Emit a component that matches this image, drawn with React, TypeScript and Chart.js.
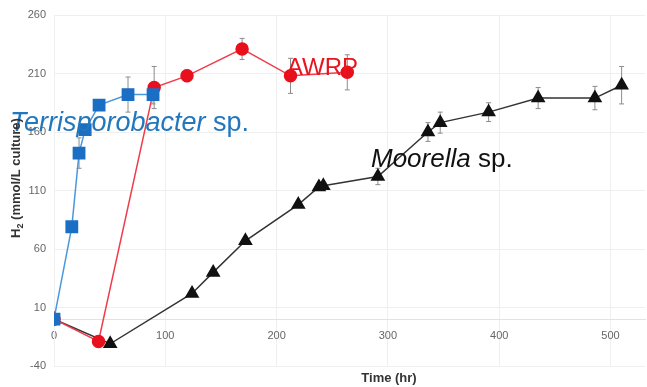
import React, { useEffect, useRef } from "react";
import { Chart, registerables } from "chart.js";
Chart.register(...registerables);

const xTicks = [0, 100, 200, 300, 400, 500];
const yTicks = [-40, 10, 60, 110, 160, 210, 260];

const terriTime = [0, 16, 22.5, 28, 40.5, 66.5, 89];
const terriH2 = [0, 79, 142, 162, 183, 192, 192];
const terriErr = [0, 2, 13, 3, 3, 15, 8];

const awrpTime = [0, 40, 90, 119.5, 169, 212.5, 263.5];
const awrpH2 = [0, -19, 198, 208, 231, 208, 211];
const awrpErr = [0, 2, 18, 5, 9, 15, 15];

const mooTime = [0, 50.5, 124, 143, 172, 219.5, 238, 242, 291, 336, 347, 390.5, 435, 486, 510];
const mooH2 = [0, -21, 22, 40, 67, 98, 113, 114, 122, 160, 168, 177, 189, 189, 200];
const mooErr = [0, 1, 2, 2, 2, 2, 3, 3, 7, 8, 9, 8, 9, 10, 16];

const FONT = "'Liberation Sans', Arial, sans-serif";

const toPoints = (xs: number[], ys: number[]) => xs.map((x, i) => ({ x, y: ys[i] }));

const errorBarPlugin = {
  id: "errorBars",
  beforeDatasetsDraw(chart: any) {
    const ctx = chart.ctx;
    const yScale = chart.scales.y;
    ctx.save();
    ctx.strokeStyle = "#8c8c8c";
    ctx.lineWidth = 1;
    chart.data.datasets.forEach((ds: any, di: number) => {
      const meta = chart.getDatasetMeta(di);
      const errs: number[] = ds.errors || [];
      meta.data.forEach((pt: any, i: number) => {
        const e = errs[i];
        if (!e) return;
        const v = ds.data[i].y;
        const yTop = yScale.getPixelForValue(v + e);
        const yBot = yScale.getPixelForValue(v - e);
        const x = pt.x;
        ctx.beginPath();
        ctx.moveTo(x, yTop);
        ctx.lineTo(x, yBot);
        ctx.moveTo(x - 2.5, yTop);
        ctx.lineTo(x + 2.5, yTop);
        ctx.moveTo(x - 2.5, yBot);
        ctx.lineTo(x + 2.5, yBot);
        ctx.stroke();
      });
    });
    ctx.restore();
  },
};

const textPlugin = {
  id: "texts",
  afterDraw(chart: any) {
    const ctx = chart.ctx;
    ctx.save();
    ctx.textBaseline = "alphabetic";
    ctx.textAlign = "left";

    const label = (x: number, y: number, italic: string, normal: string, color: string, size: number) => {
      ctx.fillStyle = color;
      ctx.font = `italic ${size}px ${FONT}`;
      ctx.fillText(italic, x, y);
      const w = ctx.measureText(italic).width;
      ctx.font = `${size}px ${FONT}`;
      ctx.fillText(normal, x + w, y);
    };
    label(10, 131, "Terrisporobacter", " sp.", "#2377bd", 27);
    label(371, 167, "Moorella", " sp.", "#111111", 26);
    ctx.fillStyle = "#e8141e";
    ctx.font = `24px ${FONT}`;
    ctx.fillText("AWRP", 287, 75);

    // x title
    ctx.fillStyle = "#333333";
    ctx.font = `bold 13px ${FONT}`;
    ctx.textAlign = "center";
    ctx.fillText("Time (hr)", 389, 382);

    // y title with subscript
    ctx.translate(20, 178);
    ctx.rotate(-Math.PI / 2);
    ctx.textAlign = "left";
    const big = `bold 13px ${FONT}`;
    const small = `bold 9px ${FONT}`;
    ctx.font = big;
    const wH = ctx.measureText("H").width;
    const rest = " (mmol/L culture)";
    const wR = ctx.measureText(rest).width;
    ctx.font = small;
    const w2 = ctx.measureText("2").width;
    const total = wH + w2 + wR;
    let cx = -total / 2;
    ctx.font = big;
    ctx.fillText("H", cx, 0);
    cx += wH;
    ctx.font = small;
    ctx.fillText("2", cx, 3);
    cx += w2;
    ctx.font = big;
    ctx.fillText(rest, cx, 0);
    ctx.restore();
  },
};

export default function App() {
  const ref = useRef<HTMLCanvasElement | null>(null);
  useEffect(() => {
    if (!ref.current) return;
    const chart = new Chart(ref.current, {
      type: "line",
      data: {
        datasets: [
          {
            label: "Terrisporobacter sp.",
            data: toPoints(terriTime, terriH2),
            errors: terriErr,
            borderColor: "#4a98dc",
            borderWidth: 1.5,
            pointStyle: "rect",
            pointRadius: 8,
            pointBackgroundColor: "#1a6fc4",
            pointBorderColor: "#1a6fc4",
            order: 0,
          } as any,
          {
            label: "AWRP",
            data: toPoints(awrpTime, awrpH2),
            errors: awrpErr,
            borderColor: "#f03c4a",
            borderWidth: 1.5,
            pointStyle: "circle",
            pointRadius: 6,
            pointBackgroundColor: "#e8101c",
            pointBorderColor: "#e8101c",
            order: 1,
          } as any,
          {
            label: "Moorella sp.",
            data: toPoints(mooTime, mooH2),
            errors: mooErr,
            borderColor: "#333333",
            borderWidth: 1.5,
            pointStyle: "triangle",
            pointRadius: 7,
            pointBackgroundColor: "#111111",
            pointBorderColor: "#111111",
            order: 2,
          } as any,
        ],
      },
      options: {
        animation: false,
        responsive: false,
        maintainAspectRatio: false,
        layout: { autoPadding: false, padding: { top: 15, right: 2, bottom: 21, left: 0 } },
        plugins: { legend: { display: false }, tooltip: { enabled: false } },
        scales: {
          x: {
            type: "linear",
            min: 0,
            max: 531,
            position: { y: 0 } as any,
            afterBuildTicks: (s: any) => {
              s.ticks = xTicks.map((v) => ({ value: v }));
            },
            afterFit: (s: any) => {
              s.height = 0;
              s.paddingLeft = 0;
              s.paddingRight = 0;
            },
            grid: { color: "#efefef", drawTicks: false },
            border: { color: "#e2e2e2" },
            ticks: { color: "#666666", padding: 10, maxRotation: 0, font: { size: 11, family: FONT } },
          },
          y: {
            type: "linear",
            min: -40,
            max: 260,
            afterBuildTicks: (s: any) => {
              s.ticks = yTicks.map((v) => ({ value: v }));
            },
            afterFit: (s: any) => {
              s.width = 54;
            },
            grid: { color: "#efefef", drawTicks: false },
            border: { color: "#efefef" },
            ticks: { color: "#666666", padding: 8, font: { size: 11, family: FONT } },
          },
        },
      },
      plugins: [errorBarPlugin, textPlugin],
    });
    return () => chart.destroy();
  }, []);
  return (
    <div style={{ position: "fixed", left: 0, top: 0, width: 647, height: 387, background: "#fff" }}>
      <canvas ref={ref} width={647} height={387} style={{ display: "block" }} />
    </div>
  );
}
